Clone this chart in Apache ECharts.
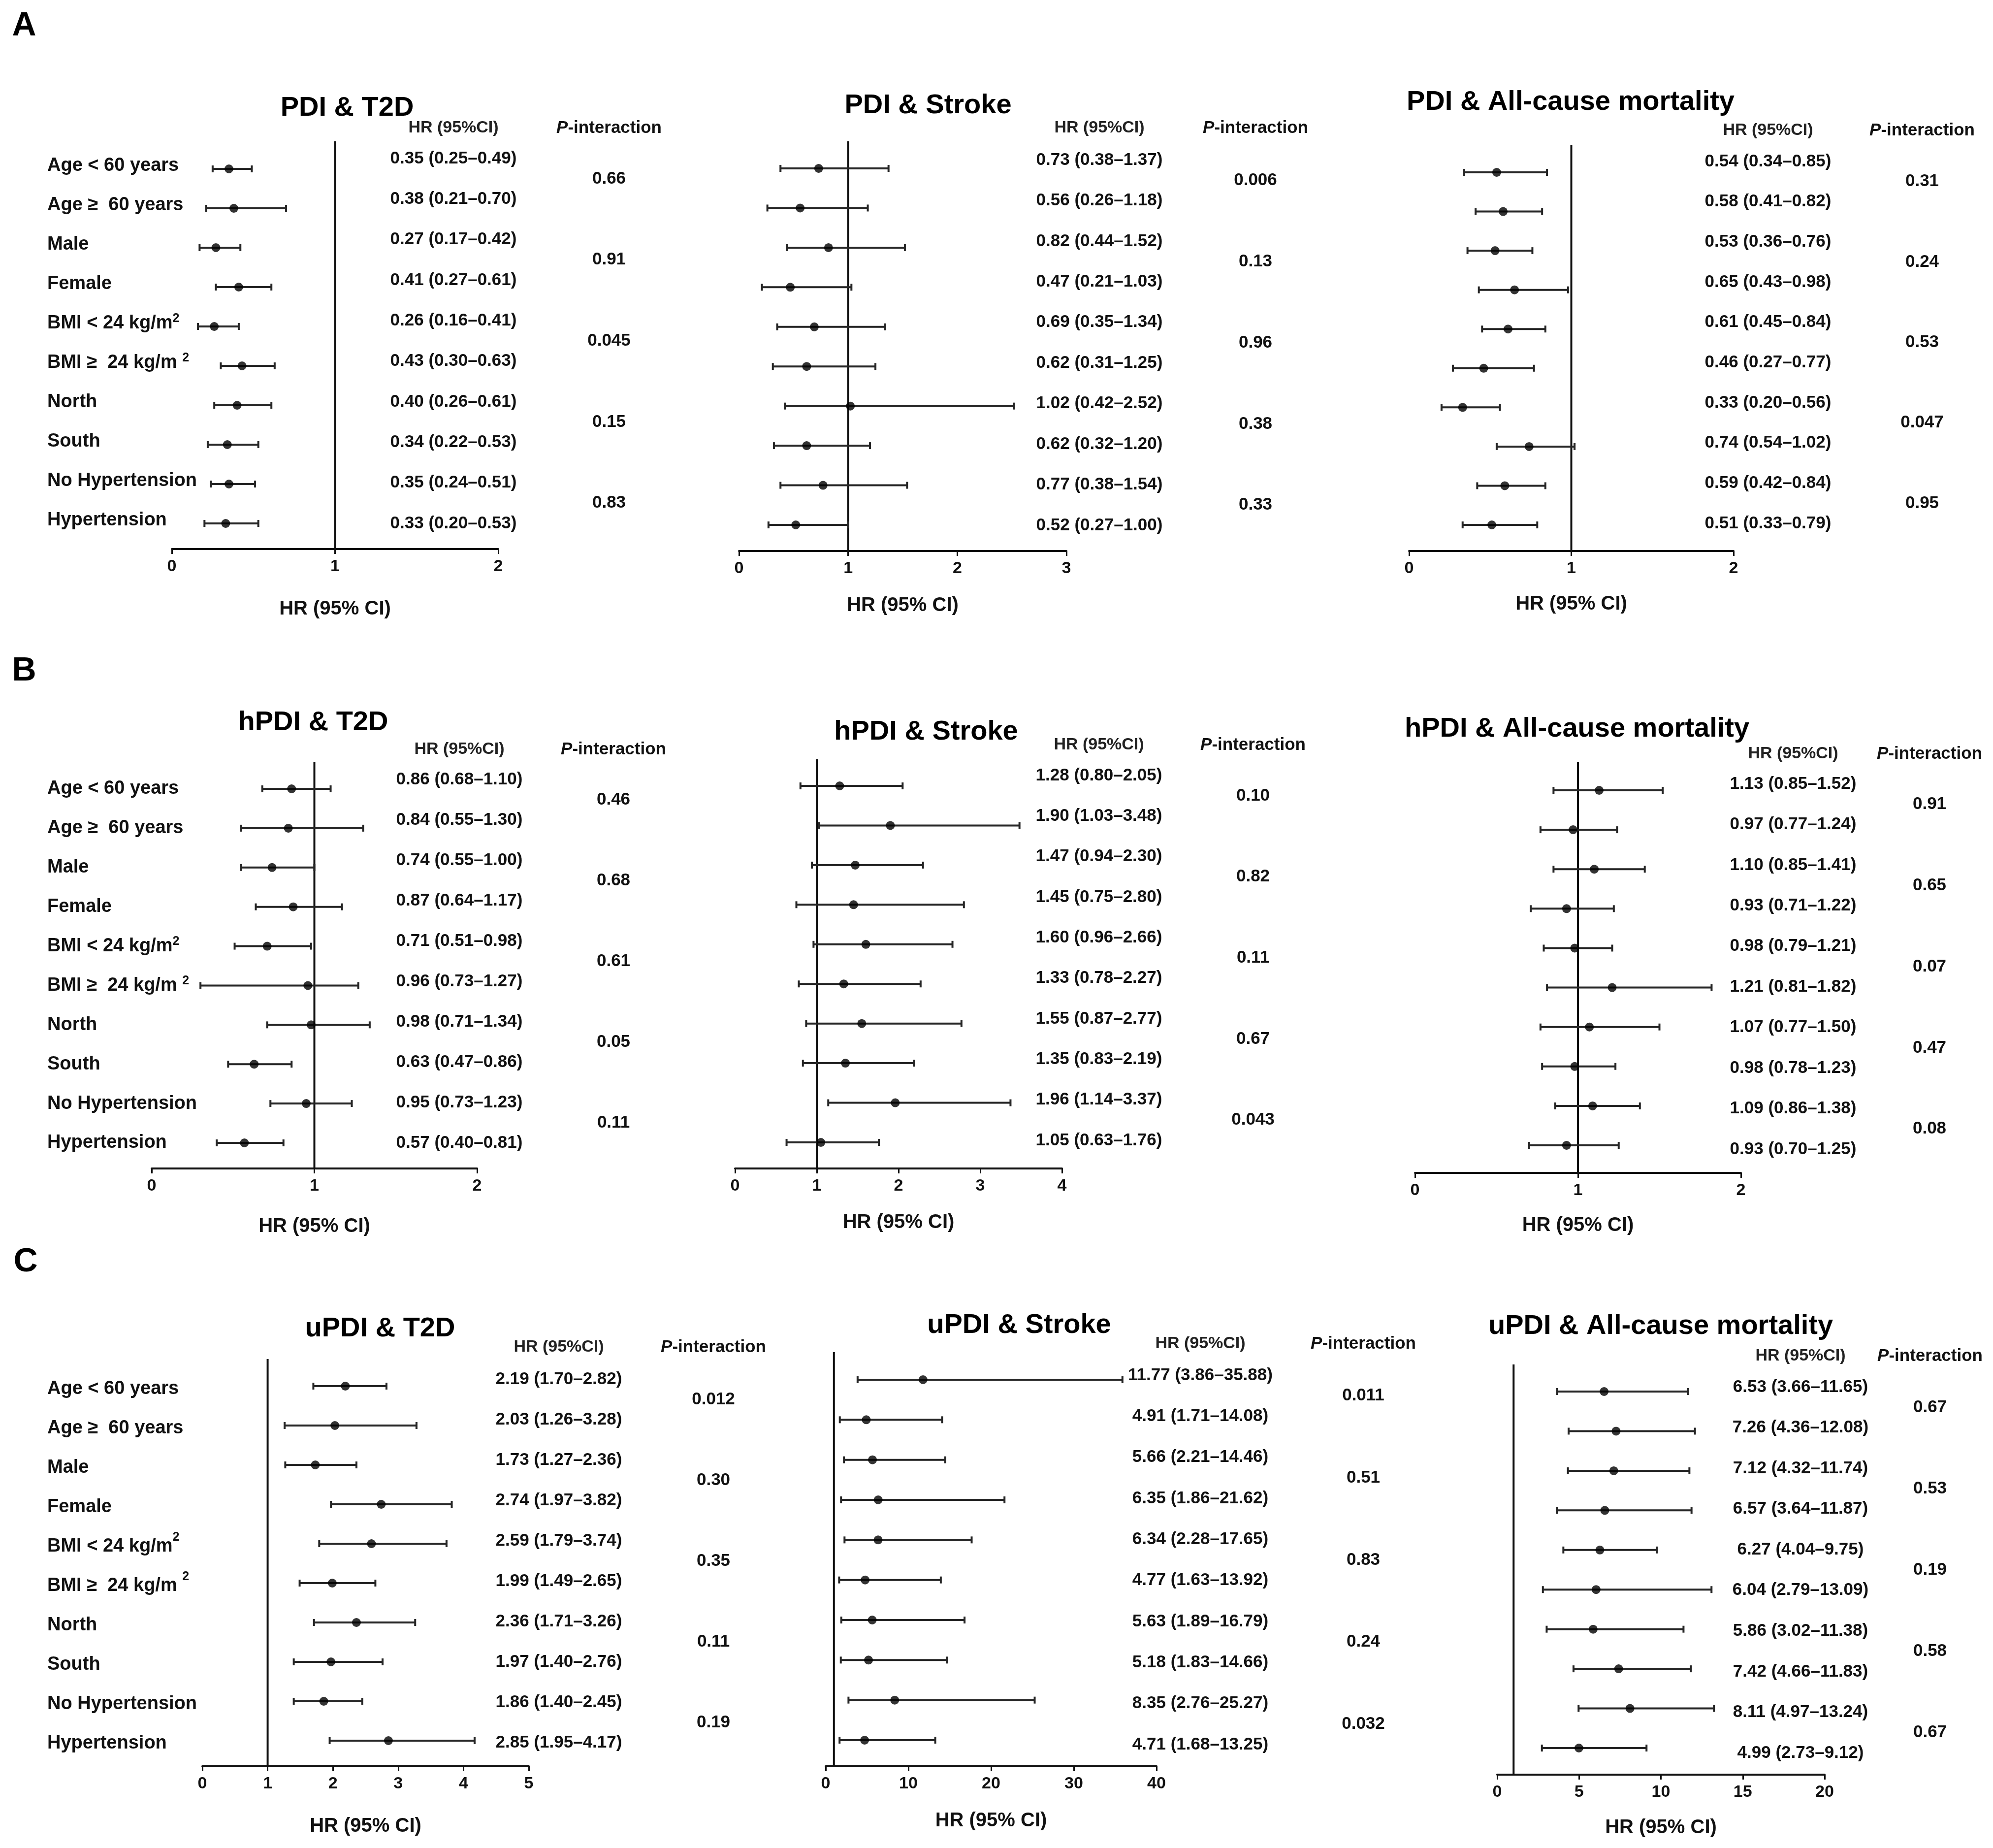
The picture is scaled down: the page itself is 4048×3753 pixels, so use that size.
<!DOCTYPE html>
<html>
<head>
<meta charset="utf-8">
<script src="https://cdn.jsdelivr.net/npm/echarts@6/dist/echarts.min.js"></script>
<style>
html,body{margin:0;padding:0;background:#fff;}
#chart{width:4048px;height:3753px;}
</style>
</head>
<body>
<div id="chart"></div>
<script>
// ---------------- DATA ----------------
const rowLabels = ['Age < 60 years', 'Age \u2265  60 years', 'Male', 'Female', 'BMI < 24 kg/m^2', 'BMI \u2265  24 kg/m ^2', 'North', 'South', 'No Hypertension', 'Hypertension'];

// Panel A: PDI
const pdiT2dHR = [0.35, 0.38, 0.27, 0.41, 0.26, 0.43, 0.40, 0.34, 0.35, 0.33];
const pdiT2dLo = [0.25, 0.21, 0.17, 0.27, 0.16, 0.30, 0.26, 0.22, 0.24, 0.20];
const pdiT2dHi = [0.49, 0.70, 0.42, 0.61, 0.41, 0.63, 0.61, 0.53, 0.51, 0.53];
const pdiT2dP = ['0.66', '0.91', '0.045', '0.15', '0.83'];

const pdiStrokeHR = [0.73, 0.56, 0.82, 0.47, 0.69, 0.62, 1.02, 0.62, 0.77, 0.52];
const pdiStrokeLo = [0.38, 0.26, 0.44, 0.21, 0.35, 0.31, 0.42, 0.32, 0.38, 0.27];
const pdiStrokeHi = [1.37, 1.18, 1.52, 1.03, 1.34, 1.25, 2.52, 1.20, 1.54, 1.00];
const pdiStrokeP = ['0.006', '0.13', '0.96', '0.38', '0.33'];

const pdiMortHR = [0.54, 0.58, 0.53, 0.65, 0.61, 0.46, 0.33, 0.74, 0.59, 0.51];
const pdiMortLo = [0.34, 0.41, 0.36, 0.43, 0.45, 0.27, 0.20, 0.54, 0.42, 0.33];
const pdiMortHi = [0.85, 0.82, 0.76, 0.98, 0.84, 0.77, 0.56, 1.02, 0.84, 0.79];
const pdiMortP = ['0.31', '0.24', '0.53', '0.047', '0.95'];

// Panel B: hPDI
const hpdiT2dHR = [0.86, 0.84, 0.74, 0.87, 0.71, 0.96, 0.98, 0.63, 0.95, 0.57];
const hpdiT2dLo = [0.68, 0.55, 0.55, 0.64, 0.51, 0.73, 0.71, 0.47, 0.73, 0.40];
const hpdiT2dHi = [1.10, 1.30, 1.00, 1.17, 0.98, 1.27, 1.34, 0.86, 1.23, 0.81];
// lower whisker ends as drawn in the figure (BMI >= 24 is drawn down to ~0.30)
const hpdiT2dLoDrawn = [0.68, 0.55, 0.55, 0.64, 0.51, 0.30, 0.71, 0.47, 0.73, 0.40];
const hpdiT2dP = ['0.46', '0.68', '0.61', '0.05', '0.11'];

const hpdiStrokeHR = [1.28, 1.90, 1.47, 1.45, 1.60, 1.33, 1.55, 1.35, 1.96, 1.05];
const hpdiStrokeLo = [0.80, 1.03, 0.94, 0.75, 0.96, 0.78, 0.87, 0.83, 1.14, 0.63];
const hpdiStrokeHi = [2.05, 3.48, 2.30, 2.80, 2.66, 2.27, 2.77, 2.19, 3.37, 1.76];
const hpdiStrokeP = ['0.10', '0.82', '0.11', '0.67', '0.043'];

const hpdiMortHR = [1.13, 0.97, 1.10, 0.93, 0.98, 1.21, 1.07, 0.98, 1.09, 0.93];
const hpdiMortLo = [0.85, 0.77, 0.85, 0.71, 0.79, 0.81, 0.77, 0.78, 0.86, 0.70];
const hpdiMortHi = [1.52, 1.24, 1.41, 1.22, 1.21, 1.82, 1.50, 1.23, 1.38, 1.25];
const hpdiMortP = ['0.91', '0.65', '0.07', '0.47', '0.08'];

// Panel C: uPDI
const updiT2dHR = [2.19, 2.03, 1.73, 2.74, 2.59, 1.99, 2.36, 1.97, 1.86, 2.85];
const updiT2dLo = [1.70, 1.26, 1.27, 1.97, 1.79, 1.49, 1.71, 1.40, 1.40, 1.95];
const updiT2dHi = [2.82, 3.28, 2.36, 3.82, 3.74, 2.65, 3.26, 2.76, 2.45, 4.17];
const updiT2dP = ['0.012', '0.30', '0.35', '0.11', '0.19'];

const updiStrokeHR = [11.77, 4.91, 5.66, 6.35, 6.34, 4.77, 5.63, 5.18, 8.35, 4.71];
const updiStrokeLo = [3.86, 1.71, 2.21, 1.86, 2.28, 1.63, 1.89, 1.83, 2.76, 1.68];
const updiStrokeHi = [35.88, 14.08, 14.46, 21.62, 17.65, 13.92, 16.79, 14.66, 25.27, 13.25];
const updiStrokeP = ['0.011', '0.51', '0.83', '0.24', '0.032'];

const updiMortHR = [6.53, 7.26, 7.12, 6.57, 6.27, 6.04, 5.86, 7.42, 8.11, 4.99];
const updiMortLo = [3.66, 4.36, 4.32, 3.64, 4.04, 2.79, 3.02, 4.66, 4.97, 2.73];
const updiMortHi = [11.65, 12.08, 11.74, 11.87, 9.75, 13.09, 11.38, 11.83, 13.24, 9.12];
const updiMortP = ['0.67', '0.53', '0.19', '0.58', '0.67'];

// axis ranges / ticks
const axisMax = [2, 3, 2, 2, 4, 2, 5, 40, 20];
const axisStep = [1, 1, 1, 1, 1, 1, 1, 10, 5];

const titles = ['PDI & T2D', 'PDI & Stroke', 'PDI & All-cause mortality',
  'hPDI & T2D', 'hPDI & Stroke', 'hPDI & All-cause mortality',
  'uPDI & T2D', 'uPDI & Stroke', 'uPDI & All-cause mortality'];
const panelLetters = ['A', 'B', 'C'];
const refValue = 1;

const panels = [
  {hr: pdiT2dHR, lo: pdiT2dLo, hi: pdiT2dHi, p: pdiT2dP},
  {hr: pdiStrokeHR, lo: pdiStrokeLo, hi: pdiStrokeHi, p: pdiStrokeP},
  {hr: pdiMortHR, lo: pdiMortLo, hi: pdiMortHi, p: pdiMortP},
  {hr: hpdiT2dHR, lo: hpdiT2dLo, hi: hpdiT2dHi, loDrawn: hpdiT2dLoDrawn, p: hpdiT2dP},
  {hr: hpdiStrokeHR, lo: hpdiStrokeLo, hi: hpdiStrokeHi, p: hpdiStrokeP},
  {hr: hpdiMortHR, lo: hpdiMortLo, hi: hpdiMortHi, p: hpdiMortP},
  {hr: updiT2dHR, lo: updiT2dLo, hi: updiT2dHi, p: updiT2dP},
  {hr: updiStrokeHR, lo: updiStrokeLo, hi: updiStrokeHi, p: updiStrokeP},
  {hr: updiMortHR, lo: updiMortLo, hi: updiMortHi, p: updiMortP}
];

// ---------------- LAYOUT (pixels) ----------------
// first/last: centre rows of the plotted marks; tFirst/tLast: centre rows of the HR text column
const layout = [
  {x0: 349, x1: 1012, first: 343, last: 1063, tFirst: 322, tLast: 1063, axisY: 1115, refTop: 287, title: [705, 220], hdrY: 260, hrX: 921, pX: 1237, rowShift: -6, nameY: 1233},
  {x0: 1501, x1: 2166, first: 342, last: 1066, tFirst: 325, tLast: 1067, axisY: 1119, refTop: 287, title: [1885, 215], hdrY: 260, hrX: 2233, pX: 2550, nameY: 1226},
  {x0: 2862, x1: 3521, first: 350, last: 1066, tFirst: 328, tLast: 1063, axisY: 1119, refTop: 294, title: [3190, 208], hdrY: 265, hrX: 3591, pX: 3904, nameY: 1223},
  {x0: 308, x1: 969, first: 1602, last: 2321, tFirst: 1583, tLast: 2321, axisY: 2373, refTop: 1548, title: [636, 1468], hdrY: 1522, hrX: 933, pX: 1246, rowShift: 0, nameY: 2487},
  {x0: 1493, x1: 2157, first: 1596, last: 2320, tFirst: 1575, tLast: 2316, axisY: 2373, refTop: 1542, title: [1881, 1487], hdrY: 1513, hrX: 2232, pX: 2545, nameY: 2479},
  {x0: 2874, x1: 3536, first: 1605, last: 2326, tFirst: 1592, tLast: 2334, axisY: 2382, refTop: 1548, title: [3203, 1481], hdrY: 1531, hrX: 3642, pX: 3919, nameY: 2485},
  {x0: 411, x1: 1074, first: 2815, last: 3535, tFirst: 2801, tLast: 3539, axisY: 3587, refTop: 2760, title: [772, 2699], hdrY: 2736, hrX: 1135, pX: 1449, rowShift: 6, nameY: 3705},
  {x0: 1677, x1: 2349, first: 2802, last: 3534, tFirst: 2793, tLast: 3543, axisY: 3587, refTop: 2746, title: [2070, 2692], hdrY: 2729, hrX: 2438, pX: 2769, nameY: 3694},
  {x0: 3041, x1: 3706, first: 2826, last: 3550, tFirst: 2817, tLast: 3560, axisY: 3604, refTop: 2771, title: [3373, 2694], hdrY: 2754, hrX: 3657, pX: 3920, nameY: 3708}
];
const letterPos = [[49, 53], [49, 1363], [52, 2563]];

const FONT = "'Liberation Sans', Arial, Helvetica, sans-serif";
const INK = '#111';
const BAR = '#262626';

function fmt(v) { return v.toFixed(2); }

const grid = [], xAxis = [], yAxis = [], series = [], graphic = [];
const N = panels.length;

// main plotting grids 0..8
panels.forEach((pd, k) => {
  const L = layout[k];
  const band = (L.last - L.first) / 9;
  const top = L.first - band / 2;
  const height = band * 10;
  const gridBottom = top + height;
  const axisOffset = L.axisY - gridBottom;
  grid.push({left: L.x0, top: top, width: L.x1 - L.x0, height: height, containLabel: false});

  xAxis.push({
    type: 'value', gridIndex: k, min: 0, max: axisMax[k], interval: axisStep[k],
    offset: axisOffset,
    axisLine: {show: true, onZero: false, lineStyle: {color: INK, width: 4}},
    axisTick: {show: true, length: 10, lineStyle: {color: INK, width: 3}},
    splitLine: {show: false},
    axisLabel: {fontFamily: FONT, fontSize: 34, fontWeight: 'bold', color: INK, margin: 19},
    name: 'HR (95% CI)', nameLocation: 'middle', nameGap: L.nameY - L.axisY - 16,
    nameTextStyle: {fontFamily: FONT, fontSize: 40, fontWeight: 'bold', color: INK}
  });

  const showRows = (k % 3 === 0);
  const rs = L.rowShift || 0;
  const mainPad = rs < 0 ? [0, 0, -2 * rs, 0] : [2 * rs, 0, 0, 0];
  yAxis.push({
    type: 'category', gridIndex: k, data: rowLabels, inverse: true, position: 'left',
    axisLine: {show: false}, axisTick: {show: false}, splitLine: {show: false},
    axisLabel: {
      show: showRows, interval: 0, align: 'left', margin: L.x0 - 96,
      fontFamily: FONT, fontSize: 38, fontWeight: 'bold', color: INK,
      formatter: function (v) {
        const parts = v.split('^');
        let s = '{t|' + parts[0] + '}';
        if (parts.length > 1) s += '{sup|' + parts[1] + '}';
        return s;
      },
      rich: {
        t: {fontFamily: FONT, fontSize: 38, fontWeight: 'bold', color: INK, padding: mainPad},
        sup: {fontFamily: FONT, fontSize: 25, fontWeight: 'bold', color: INK, verticalAlign: 'top', padding: [0, 0, 19 + Math.max(0, -2 * rs), 0]}
      }
    }
  });

  // reference line at HR = 1
  const extTop = top - L.refTop;
  series.push({
    type: 'custom', xAxisIndex: k, yAxisIndex: k, clip: false, silent: true, z: 1,
    data: [[refValue, 0]], encode: {x: 0, y: 1},
    renderItem: function (params, api) {
      const cs = params.coordSys;
      const x = api.coord([api.value(0), 0])[0];
      return {type: 'line', shape: {x1: x, y1: cs.y - extTop, x2: x, y2: cs.y + cs.height + axisOffset},
        style: {stroke: INK, lineWidth: 4}};
    }
  });

  // error bars
  const loPlot = pd.loDrawn || pd.lo;
  series.push({
    type: 'custom', xAxisIndex: k, yAxisIndex: k, clip: false, silent: true, z: 2,
    data: pd.hr.map((v, i) => [loPlot[i], pd.hi[i], i]),
    encode: {x: [0, 1], y: 2},
    renderItem: function (params, api) {
      const yv = api.value(2);
      const a = api.coord([api.value(0), yv]);
      const b = api.coord([api.value(1), yv]);
      const h = 7;
      const st = {stroke: BAR, lineWidth: 4};
      return {type: 'group', children: [
        {type: 'line', shape: {x1: a[0], y1: a[1], x2: b[0], y2: b[1]}, style: st},
        {type: 'line', shape: {x1: a[0], y1: a[1] - h, x2: a[0], y2: a[1] + h}, style: st},
        {type: 'line', shape: {x1: b[0], y1: b[1] - h, x2: b[0], y2: b[1] + h}, style: st}
      ]};
    }
  });

  // point estimates
  series.push({
    type: 'scatter', xAxisIndex: k, yAxisIndex: k, z: 3, silent: true,
    symbol: 'circle', symbolSize: 18, itemStyle: {color: '#000'},
    data: pd.hr.map((v, i) => [v, i])
  });

  // title and column headers
  graphic.push({type: 'text', x: L.title[0], y: L.title[1],
    style: {text: titles[k], font: 'bold 56px ' + FONT, fill: '#000', textAlign: 'center', textVerticalAlign: 'middle'}});
  graphic.push({type: 'text', x: L.hrX, y: L.hdrY,
    style: {text: 'HR (95%CI)', font: 'bold 34px ' + FONT, fill: '#222', textAlign: 'center', textVerticalAlign: 'middle'}});
  graphic.push({type: 'text', x: L.pX, y: L.hdrY,
    style: {text: '{i|P}{n|-interaction}', textAlign: 'center', textVerticalAlign: 'middle',
      rich: {i: {fontFamily: FONT, fontSize: 35, fontWeight: 'bold', fontStyle: 'italic', fill: INK},
             n: {fontFamily: FONT, fontSize: 35, fontWeight: 'bold', fill: INK}}}});
});

// text-column grids 9..17 (HR (95%CI) values and P-interaction values)
panels.forEach((pd, k) => {
  const L = layout[k];
  const g = N + k;
  const band = (L.tLast - L.tFirst) / 9;
  grid.push({left: L.x0, top: L.tFirst - band / 2, width: L.x1 - L.x0, height: band * 10, containLabel: false});
  xAxis.push({type: 'value', gridIndex: g, show: false, min: 0, max: 1});
  const hrText = pd.hr.map((v, i) => fmt(v) + ' (' + fmt(pd.lo[i]) + '\u2013' + fmt(pd.hi[i]) + ')');
  yAxis.push({
    type: 'category', gridIndex: g, data: hrText, inverse: true, position: 'right', offset: 0,
    axisLine: {show: false}, axisTick: {show: false}, splitLine: {show: false},
    axisLabel: {interval: 0, align: 'center', margin: L.hrX - L.x1,
      fontFamily: FONT, fontSize: 35, fontWeight: 'bold', color: INK}
  });
  yAxis.push({
    type: 'category', gridIndex: g, data: pd.p, inverse: true, position: 'right', offset: 0,
    axisLine: {show: false}, axisTick: {show: false}, splitLine: {show: false},
    axisLabel: {interval: 0, align: 'center', margin: L.pX - L.x1,
      fontFamily: FONT, fontSize: 35, fontWeight: 'bold', color: INK}
  });
});

panelLetters.forEach((t, i) => {
  graphic.push({type: 'text', x: letterPos[i][0], y: letterPos[i][1],
    style: {text: t, font: 'bold 68px ' + FONT, fill: '#000', textAlign: 'center', textVerticalAlign: 'middle'}});
});

const chart = echarts.init(document.getElementById('chart'), null, {renderer: 'canvas'});
chart.setOption({
  backgroundColor: '#fff',
  animation: false,
  grid: grid, xAxis: xAxis, yAxis: yAxis, series: series, graphic: graphic
});
</script>
</body>
</html>
